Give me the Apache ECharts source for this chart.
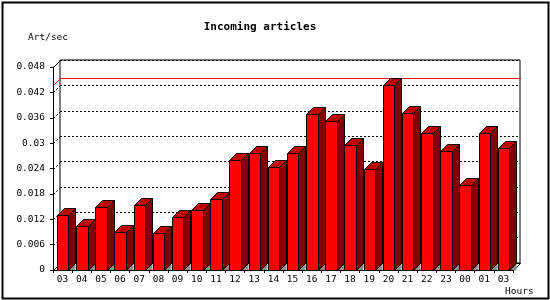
<!DOCTYPE html>
<html><head><meta charset="utf-8">
<script src="https://cdn.jsdelivr.net/npm/echarts@6/dist/echarts.min.js"></script>
<style>html,body{margin:0;padding:0;background:#fff}#c{width:550px;height:300px}</style>
</head><body><div id="c"></div>
<script>
const hours = ['03','04','05','06','07','08','09','10','11','12','13','14','15','16','17','18','19','20','21','22','23','00','01','03'];
const articlesPerSec = [0.0130,0.0104,0.0149,0.0089,0.0154,0.0087,0.0125,0.0141,0.0167,0.0260,0.0276,0.0243,0.0276,0.0369,0.0352,0.0295,0.0240,0.0437,0.0371,0.0324,0.0281,0.0200,0.0324,0.0288];
const yTickValues = [0,0.006,0.012,0.018,0.024,0.03,0.036,0.042,0.048];
const yTickLabels = ['0','0.006','0.012','0.018','0.024','0.03','0.036','0.042','0.048'];
const titleText = 'Incoming articles';
const yUnit = 'Art/sec';
const xUnit = 'Hours';

const yStep = 0.006, yMax = 0.048;
const D = 7;
const FONT = '"DejaVu Sans Mono", "Liberation Mono", monospace';
const maxVal = Math.max(...articlesPerSec);

function px(v){ return Math.round(v) + 0.5; }

function renderBar(params, api){
  const i = api.value(0), v = api.value(1);
  const p = api.coord([i, v]);
  const b = api.coord([i, 0]);
  const bw = api.size([1, 0])[0] * 0.6;
  const x0 = px(p[0] - bw / 2), x1 = px(p[0] + bw / 2);
  const t = px(p[1]), bt = px(b[1]);
  return {type:'group', children:[
    {type:'polygon', shape:{points:[[x1,bt],[x1+D,bt-D],[x1+D,bt]]}, style:{fill:'#8c8c8c', stroke:null}},
    {type:'polygon', shape:{points:[[x1,t],[x1+D,t-D],[x1+D,bt-D],[x1,bt]]}, style:{fill:'#800000', stroke:'#000', lineWidth:1}},
    {type:'polygon', shape:{points:[[x0,t],[x0+D,t-D],[x1+D,t-D],[x1,t]]}, style:{fill:'#c00000', stroke:'#000', lineWidth:1}},
    {type:'rect', shape:{x:x0, y:t, width:x1-x0, height:bt-t}, style:{fill:'#ff0000', stroke:'#000', lineWidth:1}}
  ]};
}

function renderWall(params, api){
  const v = api.value(1);
  const y = px(api.coord([0, v])[1]);
  const x = px(params.coordSys.x);
  const top = v >= yMax - 1e-9;
  return {type:'line', shape:{x1:x, y1:y, x2:x+D, y2:y-D},
    style:{stroke:'#000', lineWidth:1, lineDash: top ? null : [2,2]}};
}

function renderFloor(params, api){
  const cs = params.coordSys;
  const y = px(api.coord([0, 0])[1]);
  const xl = px(cs.x), xr = px(cs.x + cs.width);
  return {type:'polyline', shape:{points:[[xl,y],[xl+D,y-D],[xr+D,y-D],[xr,y]]},
    style:{stroke:'#000', lineWidth:1, fill:null}};
}

function renderMax(params, api){
  const cs = params.coordSys;
  const y = px(api.coord([0, api.value(1)])[1]);
  const xl = px(cs.x), xr = px(cs.x + cs.width);
  return {type:'polyline', shape:{points:[[xl,y],[xl+D,y-D],[xr+D,y-D]]},
    style:{stroke:'#ff0000', lineWidth:1, fill:null}};
}

const chart = echarts.init(document.getElementById('c'), null, {renderer:'canvas'});
chart.setOption({
  animation:false,
  backgroundColor:'#ffffff',
  grid:[
    {left:53, top:67, width:460, height:203, show:false},
    {left:60, top:60, width:460, height:203, show:true, borderColor:'#000', borderWidth:1, backgroundColor:'#fff', z:0}
  ],
  xAxis:[
    {type:'category', gridIndex:0, data:hours, boundaryGap:true, z:10,
      axisLine:{show:true, lineStyle:{color:'#000', width:1}},
      axisTick:{show:true, length:3, lineStyle:{color:'#000'}},
      axisLabel:{interval:0, margin:5, color:'#000', fontFamily:FONT, fontSize:9.5},
      splitLine:{show:false}},
    {type:'category', gridIndex:1, data:hours, show:false}
  ],
  yAxis:[
    {type:'value', gridIndex:0, min:0, max:yMax, interval:yStep, z:10,
      axisLine:{show:true, lineStyle:{color:'#000', width:1}},
      axisTick:{show:true, length:3, lineStyle:{color:'#000'}},
      axisLabel:{margin:8, color:'#000', fontFamily:FONT, fontSize:9.5,
        formatter:function(v){ return yTickLabels[Math.round(v / yStep)]; }},
      splitLine:{show:false}},
    {type:'value', gridIndex:1, min:0, max:yMax, interval:yStep,
      axisLine:{show:false}, axisTick:{show:false}, axisLabel:{show:false},
      splitLine:{show:true, lineStyle:{color:'#000', width:1, type:[2,2]}}}
  ],
  series:[
    {type:'custom', xAxisIndex:0, yAxisIndex:0, clip:false, z:1, silent:true,
      data:yTickValues.map(v => [0, v]), renderItem:renderWall},
    {type:'custom', xAxisIndex:0, yAxisIndex:0, clip:false, z:1, silent:true,
      data:[[0, 0]], renderItem:renderFloor},
    {type:'custom', xAxisIndex:0, yAxisIndex:0, clip:false, z:2, silent:true,
      data:[[0, maxVal]], renderItem:renderMax},
    {type:'custom', xAxisIndex:0, yAxisIndex:0, clip:false, z:3, silent:true,
      data:articlesPerSec.map((v, i) => [i, v]), encode:{x:0, y:1}, renderItem:renderBar}
  ],
  graphic:[
    {type:'rect', left:0, top:0, z:100, silent:true, shape:{x:1, y:1, width:546, height:296}, style:{fill:null, stroke:'#000', lineWidth:2}},
    {type:'text', x:260, y:27, z:100, style:{text:titleText, fill:'#000', font:'bold 11px ' + FONT, textAlign:'center', textVerticalAlign:'middle'}},
    {type:'text', x:28, y:37.5, z:100, style:{text:yUnit, fill:'#000', font:'9.5px ' + FONT, textAlign:'left', textVerticalAlign:'middle'}},
    {type:'text', x:505, y:292, z:100, style:{text:xUnit, fill:'#000', font:'9.5px ' + FONT, textAlign:'left', textVerticalAlign:'middle'}}
  ]
});
</script>
</body></html>
